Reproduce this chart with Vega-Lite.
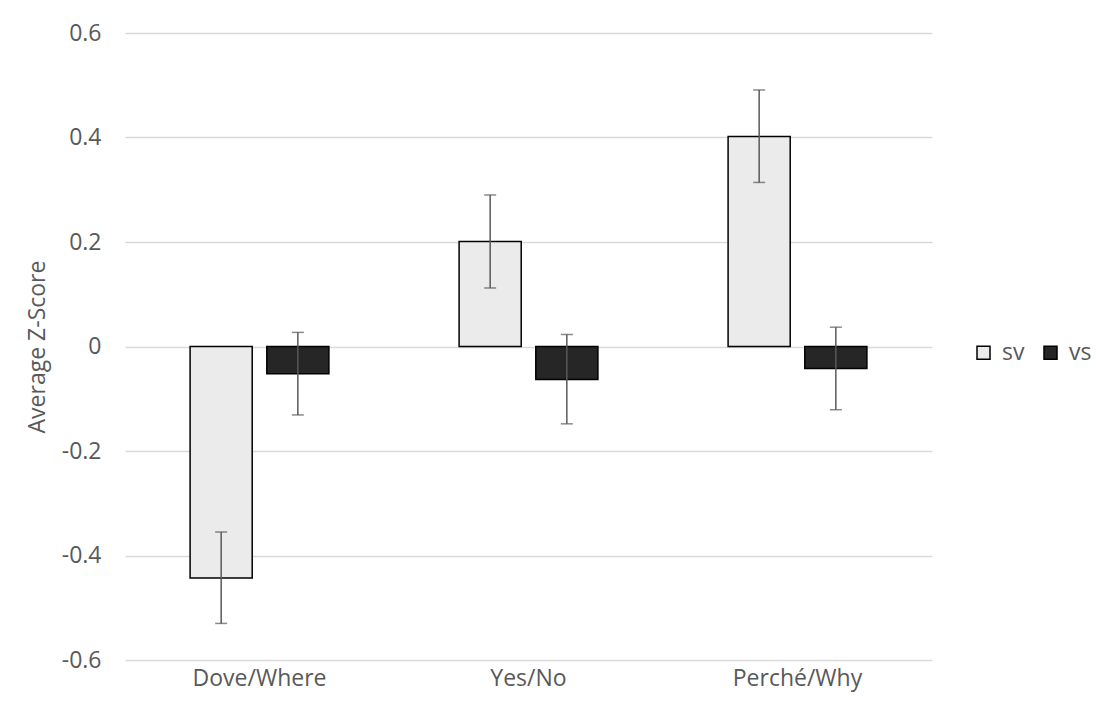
{
  "$schema": "https://vega.github.io/schema/vega-lite/v6.json",
  "width": 807,
  "height": 627,
  "autosize": {"type": "none"},
  "padding": {"left": 125, "top": 33, "right": 164, "bottom": 57},
  "background": "white",
  "config": {
    "view": {"stroke": null},
    "font": "Open Sans",
    "axis": {"labelFont": "Open Sans", "titleFont": "Open Sans", "labelColor": "#595959", "titleColor": "#595959", "labelFontSize": 23, "titleFontSize": 23, "titleFontWeight": "normal"},
    "legend": {"labelFont": "Open Sans", "labelFontSize": 23, "labelColor": "#595959"}
  },
  "data": {
    "values": [
      {"question": "Dove/Where", "series": "sv", "value": -0.443, "lo": -0.530, "hi": -0.355},
      {"question": "Dove/Where", "series": "vs", "value": -0.052, "lo": -0.131, "hi": 0.027},
      {"question": "Yes/No", "series": "sv", "value": 0.201, "lo": 0.112, "hi": 0.290},
      {"question": "Yes/No", "series": "vs", "value": -0.063, "lo": -0.148, "hi": 0.023},
      {"question": "Perché/Why", "series": "sv", "value": 0.402, "lo": 0.314, "hi": 0.491},
      {"question": "Perché/Why", "series": "vs", "value": -0.042, "lo": -0.121, "hi": 0.037}
    ]
  },
  "encoding": {
    "x": {
      "field": "question", "type": "nominal",
      "sort": ["Dove/Where", "Yes/No", "Perché/Why"],
      "scale": {"paddingInner": 0.484, "paddingOuter": 0.242},
      "axis": {"title": null, "labelAngle": 0, "domain": false, "ticks": false, "grid": false, "labelPadding": 7}
    },
    "xOffset": {"field": "series", "type": "nominal", "sort": ["sv", "vs"], "scale": {"paddingInner": 0.19, "paddingOuter": 0}}
  },
  "layer": [
    {
      "mark": {"type": "bar", "stroke": "#000000", "strokeWidth": 1.5},
      "encoding": {
        "y": {
          "field": "value", "type": "quantitative",
          "scale": {"domain": [-0.6, 0.6], "nice": false},
          "axis": {
            "title": "Average Z-Score",
            "values": [-0.6, -0.4, -0.2, 0, 0.2, 0.4, 0.6],
            "format": ".1~f",
            "labelExpr": "replace(datum.label, '\u2212', '-')",
            "domain": false, "ticks": false,
            "grid": true, "gridColor": "#d9d9d9", "gridWidth": 1.5,
            "labelPadding": 24, "titlePadding": 12
          }
        },
        "color": {
          "field": "series", "type": "nominal",
          "scale": {"domain": ["sv", "vs"], "range": ["#ebebeb", "#262626"]},
          "legend": {
            "title": null, "orient": "none", "direction": "horizontal",
            "legendX": 847, "legendY": 308, "padding": 0,
            "symbolType": "square", "symbolSize": 169,
            "symbolStrokeColor": "#000000", "symbolStrokeWidth": 1.5,
            "labelOffset": 7, "columnPadding": 14
          }
        }
      }
    },
    {
      "mark": {"type": "rule", "color": "#595959", "strokeWidth": 1.5},
      "encoding": {
        "y": {"field": "lo", "type": "quantitative"},
        "y2": {"field": "hi"}
      }
    },
    {
      "mark": {"type": "tick", "color": "#595959", "thickness": 1.5, "size": 12},
      "encoding": {"y": {"field": "lo", "type": "quantitative"}}
    },
    {
      "mark": {"type": "tick", "color": "#595959", "thickness": 1.5, "size": 12},
      "encoding": {"y": {"field": "hi", "type": "quantitative"}}
    }
  ]
}
